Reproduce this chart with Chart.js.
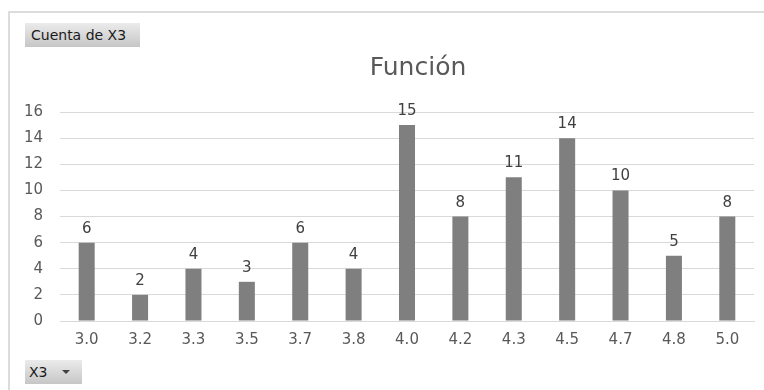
<!DOCTYPE html>
<html>
<head>
<meta charset="utf-8">
<script src="https://cdn.jsdelivr.net/npm/chart.js@4"></script>
<style>
  html, body { margin: 0; padding: 0; background: #fff; }
  #wrap { position: relative; width: 764px; height: 390px; overflow: hidden; background: #fff; }
  #frame { position: absolute; left: 8px; top: 11px; width: 800px; height: 400px;
           border-left: 2px solid #dcdcdc; border-top: 2px solid #dcdcdc; }
  #chart { position: absolute; left: 0; top: 0; }
  .btn { position: absolute; box-sizing: border-box;
         font-family: "DejaVu Sans", sans-serif;
         font-size: 14px; color: #1a1a1a; line-height: 24px;
         background: linear-gradient(#ebebeb, #c6c6c6); }
  #fieldBtn { left: 25px; top: 23px; width: 115px; height: 24px; padding-left: 6px; }
  #axisBtn { left: 25px; top: 360px; width: 57px; height: 24px; padding-left: 4px; }
  #axisBtn span { position: absolute; left: 37px; top: 10px; width: 0; height: 0;
                  border-left: 4px solid transparent; border-right: 4px solid transparent;
                  border-top: 4px solid #404040; }
</style>
</head>
<body>
<div id="wrap">
  <div id="frame"></div>
  <canvas id="chart" width="764" height="390"></canvas>
  <div class="btn" id="fieldBtn">Cuenta de X3</div>
  <div class="btn" id="axisBtn">X3<span></span></div>
</div>
<script>
// Frequency of each X3 value
const categories = ["3.0", "3.2", "3.3", "3.5", "3.7", "3.8", "4.0", "4.2", "4.3", "4.5", "4.7", "4.8", "5.0"];
const counts = [6, 2, 4, 3, 6, 4, 15, 8, 11, 14, 10, 5, 8];
const yTicks = [0, 2, 4, 6, 8, 10, 12, 14, 16];
const titleText = "Función";

const FONT = "'DejaVu Sans', sans-serif";

// Value labels above each bar
const valueLabels = {
  id: 'valueLabels',
  afterDatasetsDraw(chart) {
    const ctx = chart.ctx;
    const meta = chart.getDatasetMeta(0);
    ctx.save();
    ctx.font = "15px " + FONT;
    ctx.fillStyle = "#404040";
    ctx.textAlign = "center";
    ctx.textBaseline = "alphabetic";
    meta.data.forEach((bar, i) => {
      ctx.fillText(String(counts[i]), bar.x, bar.y - 10);
    });
    ctx.restore();
  }
};

// Chart title
const titlePlugin = {
  id: 'titlePlugin',
  afterDraw(chart) {
    const ctx = chart.ctx;
    ctx.save();
    ctx.font = "25px " + FONT;
    ctx.fillStyle = "#595959";
    ctx.textAlign = "center";
    ctx.textBaseline = "alphabetic";
    ctx.fillText(titleText, 418, 75);
    ctx.restore();
  }
};

new Chart(document.getElementById('chart'), {
  type: 'bar',
  data: {
    labels: categories,
    datasets: [{
      data: counts,
      backgroundColor: "#7f7f7f",
      borderWidth: 0,
      barPercentage: 0.30,
      categoryPercentage: 1.0
    }]
  },
  options: {
    responsive: false,
    animation: false,
    devicePixelRatio: 1,
    layout: { padding: { left: 0, right: 10, top: 112, bottom: 0 } },
    plugins: {
      legend: { display: false },
      title: { display: false },
      tooltip: { enabled: false }
    },
    scales: {
      x: {
        afterFit(scale) { scale.height = 69; },
        grid: { display: false, drawTicks: false },
        border: { display: true, color: "#d9d9d9", width: 1 },
        ticks: { color: "#595959", font: { family: FONT, size: 15 }, padding: 10 }
      },
      y: {
        min: 0,
        max: 16,
        afterFit(scale) { scale.width = 60; },
        afterBuildTicks(scale) { scale.ticks = yTicks.map(v => ({ value: v })); },
        grid: { color: "#d9d9d9", drawTicks: false },
        border: { display: false },
        ticks: { color: "#595959", font: { family: FONT, size: 15 }, padding: 17 }
      }
    }
  },
  plugins: [valueLabels, titlePlugin]
});
</script>
</body>
</html>
